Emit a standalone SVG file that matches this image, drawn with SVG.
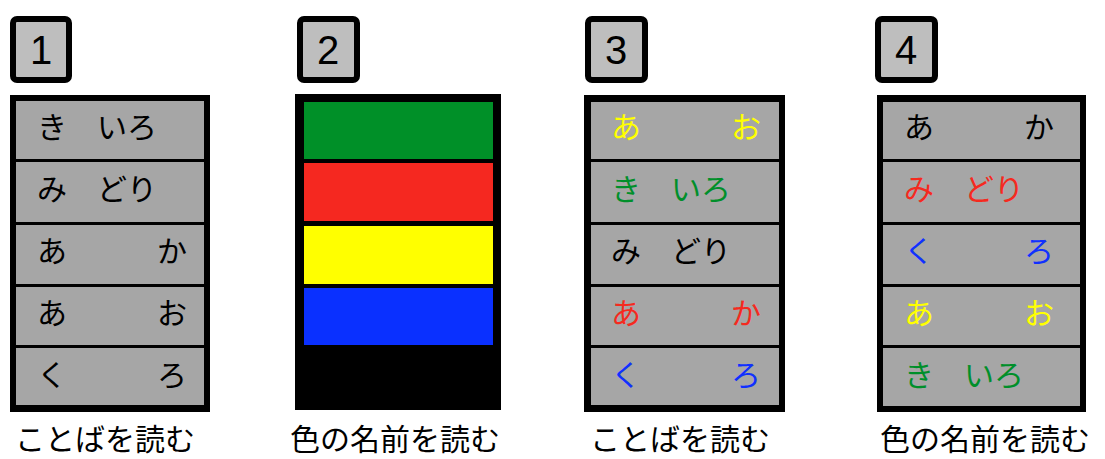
<svg xmlns="http://www.w3.org/2000/svg" width="1105" height="459" viewBox="0 0 1105 459">
<style>
.num{fill:#bebebe;stroke:#000;stroke-width:6}
.numt{font-family:"Liberation Sans","DejaVu Sans",sans-serif;font-size:40px;fill:#000;text-anchor:middle}
.row{fill:#a6a6a6}
.t{font-family:"Noto Sans CJK JP","Noto Sans",sans-serif;font-size:30px}
.cap{font-family:"Noto Sans CJK JP","Noto Sans",sans-serif;font-size:30px;fill:#000}
.k{fill:#000}.y{fill:#ffff00}.g{fill:#008f2a}.r{fill:#f52a1f}.b{fill:#1030ff}
</style>
<rect width="1105" height="459" fill="#fff"/>

<g id="panel1">
<rect class="num" x="13" y="19" width="56" height="61" rx="4"/>
<text class="numt" x="41" y="64">1</text>
<rect x="10" y="95" width="200" height="317" fill="#000"/>
<rect class="row" x="16" y="101" width="188" height="58"/>
<rect class="row" x="16" y="162" width="188" height="60"/>
<rect class="row" x="16" y="225" width="188" height="59"/>
<rect class="row" x="16" y="287" width="188" height="58"/>
<rect class="row" x="16" y="348" width="188" height="57"/>
<text class="t k" x="37" y="138">き　いろ</text>
<text class="t k" x="37" y="200">み　どり</text>
<text class="t k" x="37" y="262">あ　　　か</text>
<text class="t k" x="37" y="324">あ　　　お</text>
<text class="t k" x="37" y="386">く　　　ろ</text>
<text class="cap" x="15" y="450">ことばを読む</text>
</g>

<g id="panel2">
<rect class="num" x="300" y="19" width="57" height="61" rx="4"/>
<text class="numt" x="328" y="64">2</text>
<rect x="295" y="94" width="206" height="316" fill="#000"/>
<rect x="304" y="102" width="189" height="57" fill="#009028"/>
<rect x="304" y="163" width="189" height="58" fill="#f52820"/>
<rect x="304" y="226" width="189" height="58" fill="#ffff00"/>
<rect x="304" y="288" width="189" height="57" fill="#0a30ff"/>
<text class="cap" x="290" y="450">色の名前を読む</text>
</g>

<g id="panel3">
<rect class="num" x="588" y="19" width="57" height="61" rx="4"/>
<text class="numt" x="616" y="64">3</text>
<rect x="584" y="95" width="201" height="317" fill="#000"/>
<rect class="row" x="591" y="102" width="188" height="57"/>
<rect class="row" x="591" y="162" width="188" height="60"/>
<rect class="row" x="591" y="225" width="188" height="59"/>
<rect class="row" x="591" y="287" width="188" height="58"/>
<rect class="row" x="591" y="348" width="188" height="57"/>
<text class="t y" x="611" y="138">あ　　　お</text>
<text class="t g" x="611" y="200">き　いろ</text>
<text class="t k" x="611" y="262">み　どり</text>
<text class="t r" x="611" y="324">あ　　　か</text>
<text class="t b" x="611" y="386">く　　　ろ</text>
<text class="cap" x="590" y="450">ことばを読む</text>
</g>

<g id="panel4">
<rect class="num" x="878" y="19" width="57" height="61" rx="4"/>
<text class="numt" x="906" y="64">4</text>
<rect x="877" y="95" width="209" height="317" fill="#000"/>
<rect class="row" x="883" y="102" width="197" height="57"/>
<rect class="row" x="883" y="162" width="197" height="60"/>
<rect class="row" x="883" y="225" width="197" height="59"/>
<rect class="row" x="883" y="287" width="197" height="58"/>
<rect class="row" x="883" y="348" width="197" height="58"/>
<text class="t k" x="904" y="138">あ　　　か</text>
<text class="t r" x="904" y="200">み　どり</text>
<text class="t b" x="904" y="262">く　　　ろ</text>
<text class="t y" x="904" y="324">あ　　　お</text>
<text class="t g" x="904" y="386">き　いろ</text>
<text class="cap" x="880" y="450">色の名前を読む</text>
</g>

<g id="connectors"/>
</svg>
